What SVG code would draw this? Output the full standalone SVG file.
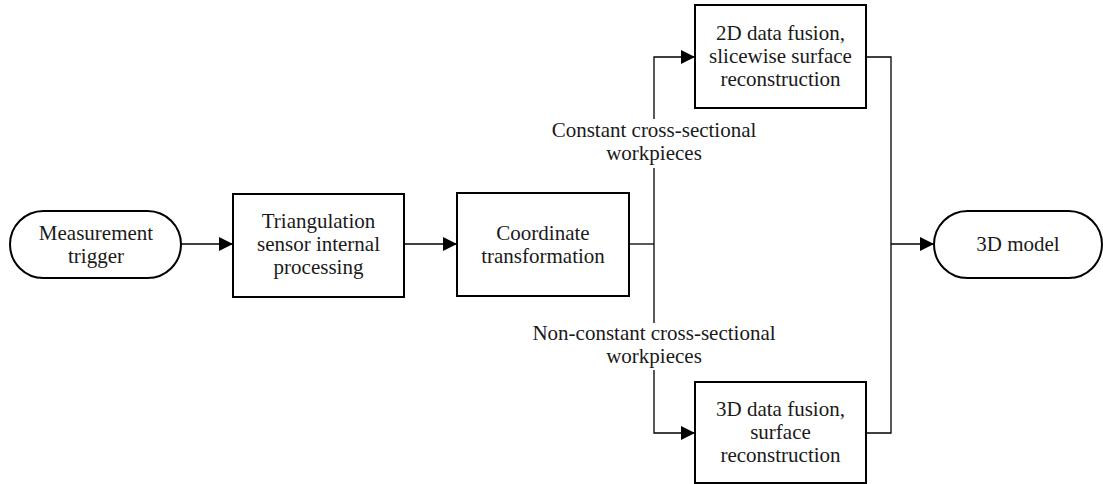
<svg xmlns="http://www.w3.org/2000/svg" width="1103" height="484" viewBox="0 0 1103 484">
  <style>
    .box { fill: #fff; stroke: #000; stroke-width: 2; }
    .wire { fill: none; stroke: #000; stroke-width: 1.3; }
    .lbl { font-family: 'Liberation Serif', serif; font-size: 21px; fill: #1a1a1a; text-anchor: middle; }
  </style>
  <defs>
    <marker id="arrow" viewBox="0 0 14 14" refX="14" refY="7" markerWidth="14" markerHeight="14" markerUnits="userSpaceOnUse" orient="auto">
      <path d="M0,0 L14,7 L0,14 Z" fill="#000"/>
    </marker>
  </defs>

  <g id="connectors">
    <line class="wire" x1="181" y1="244" x2="233" y2="244" marker-end="url(#arrow)"/>
    <line class="wire" x1="404" y1="244" x2="457" y2="244" marker-end="url(#arrow)"/>
    <polyline class="wire" points="629,244 654,244"/>
    <!-- upper branch, broken around its label -->
    <polyline class="wire" points="654,244 654,168"/>
    <polyline class="wire" points="654,119 654,57 695,57" marker-end="url(#arrow)"/>
    <!-- lower branch, broken around its label -->
    <polyline class="wire" points="654,244 654,323"/>
    <polyline class="wire" points="654,370 654,433 695,433" marker-end="url(#arrow)"/>
    <!-- both fusion results merge into the model -->
    <polyline class="wire" points="866,57 891,57 891,433 866,433"/>
    <line class="wire" x1="891" y1="244" x2="934" y2="244" marker-end="url(#arrow)"/>
  </g>

  <g id="label-constant">
    <text class="lbl" x="654" y="137">Constant cross-sectional</text>
    <text class="lbl" x="654" y="160">workpieces</text>
  </g>
  <g id="label-nonconstant">
    <text class="lbl" x="654" y="340">Non-constant cross-sectional</text>
    <text class="lbl" x="654" y="363">workpieces</text>
  </g>

  <g id="measurement-trigger">
    <rect class="box" x="10" y="211" width="171" height="67" rx="33.5" ry="33.5"/>
    <text class="lbl" x="96" y="240">Measurement</text>
    <text class="lbl" x="96" y="263">trigger</text>
  </g>

  <g id="triangulation">
    <rect class="box" x="233" y="194" width="171" height="103"/>
    <text class="lbl" x="318.5" y="228">Triangulation</text>
    <text class="lbl" x="318.5" y="251">sensor internal</text>
    <text class="lbl" x="318.5" y="274">processing</text>
  </g>

  <g id="coordinate-transformation">
    <rect class="box" x="457" y="193" width="172" height="103"/>
    <text class="lbl" x="543" y="240">Coordinate</text>
    <text class="lbl" x="543" y="263">transformation</text>
  </g>

  <g id="fusion-2d">
    <rect class="box" x="695" y="5" width="171" height="103"/>
    <text class="lbl" x="780.5" y="40">2D data fusion,</text>
    <text class="lbl" x="780.5" y="63">slicewise surface</text>
    <text class="lbl" x="780.5" y="86">reconstruction</text>
  </g>

  <g id="fusion-3d">
    <rect class="box" x="695" y="382" width="171" height="101"/>
    <text class="lbl" x="780.5" y="416">3D data fusion,</text>
    <text class="lbl" x="780.5" y="439">surface</text>
    <text class="lbl" x="780.5" y="462">reconstruction</text>
  </g>

  <g id="model-3d">
    <rect class="box" x="934" y="211" width="168" height="67" rx="33.5" ry="33.5"/>
    <text class="lbl" x="1018" y="251">3D model</text>
  </g>
</svg>
